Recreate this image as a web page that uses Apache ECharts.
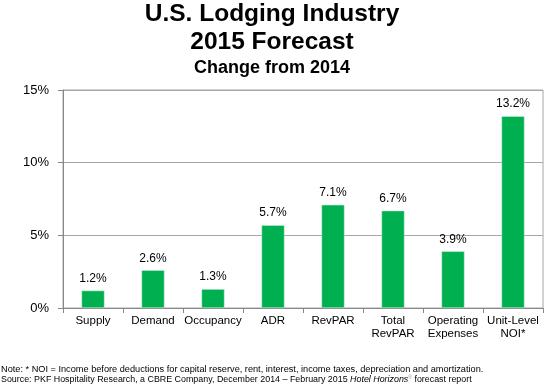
<!DOCTYPE html>
<html>
<head>
<meta charset="utf-8">
<script src="https://cdn.jsdelivr.net/npm/echarts@6/dist/echarts.min.js"></script>
<style>html,body{margin:0;padding:0;background:#fff}#c{width:544px;height:386px}</style>
</head>
<body>
<div id="c"></div>
<script>
const categories = ['Supply', 'Demand', 'Occupancy', 'ADR', 'RevPAR', 'Total\nRevPAR', 'Operating\nExpenses', 'Unit-Level\nNOI*'];
const values = [1.2, 2.6, 1.3, 5.7, 7.1, 6.7, 3.9, 13.2];
const yTicks = [0, 5, 10, 15];
const titleLines = ['U.S. Lodging Industry', '2015 Forecast', 'Change from 2014'];
const noteText = 'Note: * NOI = Income before deductions for capital reserve, rent, interest, income taxes, depreciation and amortization.';
const sourceParts = ['Source: PKF Hospitality Research, a CBRE Company, December 2014 \u2013 February 2015 ', 'Hotel Horizons', '\u00AE', ' forecast report'];

const FONT = '"Liberation Sans", Arial, sans-serif';
const chart = echarts.init(document.getElementById('c'), null, {renderer: 'canvas'});
chart.setOption({
  animation: false,
  backgroundColor: '#fff',
  textStyle: {fontFamily: FONT},
  graphic: [
    {type: 'text', left: 'center', top: 2, style: {text: titleLines[0], font: 'bold 24.5px ' + FONT, fill: '#000'}},
    {type: 'text', left: 'center', top: 30, style: {text: titleLines[1], font: 'bold 24.5px ' + FONT, fill: '#000'}},
    {type: 'text', left: 'center', top: 59, style: {text: titleLines[2], font: 'bold 18px ' + FONT, fill: '#000'}},
    {type: 'text', left: 1, top: 365, style: {text: noteText, font: '9.2px ' + FONT, fill: '#000'}},
    {type: 'text', left: 1, top: 375, style: {
      text: '{a|' + sourceParts[0] + '}{i|' + sourceParts[1] + '}{s|' + sourceParts[2] + '}{a|' + sourceParts[3] + '}',
      rich: {
        a: {font: '8.9px ' + FONT, fill: '#000'},
        i: {font: 'italic 8.9px ' + FONT, fill: '#000'},
        s: {font: '5px ' + FONT, fill: '#999', verticalAlign: 'top'}
      }
    }}
  ],
  grid: {left: 63, top: 90, width: 480, height: 218, show: true, borderColor: '#a6a6a6', borderWidth: 1, containLabel: false},
  xAxis: {
    type: 'category',
    data: categories,
    axisLine: {lineStyle: {color: '#888', width: 1}},
    axisTick: {show: true, alignWithLabel: false, length: 5, lineStyle: {color: '#888'}},
    axisLabel: {color: '#000', fontSize: 11.5, margin: 6, lineHeight: 13, interval: 0, fontFamily: FONT}
  },
  yAxis: {
    type: 'value',
    min: yTicks[0], max: yTicks[yTicks.length - 1], interval: 5,
    axisLine: {show: true, lineStyle: {color: '#888'}},
    axisTick: {show: true, length: 5, lineStyle: {color: '#888'}},
    axisLabel: {color: '#000', fontSize: 13, margin: 14, formatter: '{value}%', fontFamily: FONT},
    splitLine: {lineStyle: {color: '#a6a6a6', width: 1}}
  },
  series: [{
    type: 'bar',
    data: values,
    barWidth: 23,
    itemStyle: {color: '#00B050', borderColor: '#d9f0e2', borderWidth: 0.5},
    label: {show: true, position: 'top', distance: 6, color: '#000', fontSize: 12, fontFamily: FONT, formatter: p => p.value.toFixed(1) + '%'}
  }]
});
</script>
</body>
</html>
